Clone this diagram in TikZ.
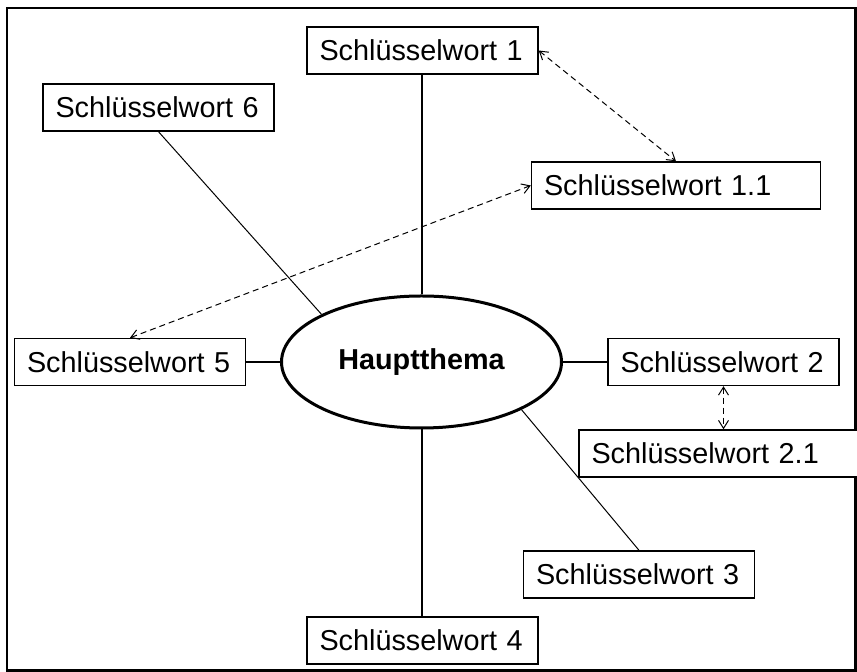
\documentclass[tikz,border=0pt]{standalone}
\usepackage{fontspec}
\setmainfont{Liberation Sans}
\usetikzlibrary{shapes.geometric,arrows.meta}

\begin{document}
\begin{tikzpicture}[x=0.5pt,y=-0.5pt,
    wort/.style={draw, fill=white, line width=0.7pt, inner xsep=6.25pt,
      text width=103pt, align=left, minimum height=23.5pt,
      font=\fontsize{14.4}{17}\selectfont},
    wortbreit/.style={wort, text width=132pt},
    haupt/.style={draw, ellipse, line width=1.5pt, inner sep=0pt,
      minimum width=140pt, minimum height=66pt,
      font=\fontsize{14.4}{17}\selectfont\bfseries},
    ast/.style={line width=1pt},
    zweig/.style={line width=0.5pt},
    bezug/.style={line width=0.5pt, densely dashed,
      {Straight Barb[length=4pt,width=5pt]}-{Straight Barb[length=4pt,width=5pt]}}]

  % Rahmen
  \useasboundingbox (0,0) rectangle (857,672);
  \draw[line width=1.2pt] (7,8) rectangle (855.5,670.5);

  % Hauptthema in der Mitte
  \node[haupt] (haupt) at (421.5,362) {Hauptthema};

  % Schluesselwoerter
  \node[wort] (w1) at (422.5,50.5) {Schlüsselwort 1};
  \node[wort] (w6) at (158.5,107.5) {Schlüsselwort 6};
  \node[wortbreit] (w11) at (676,185.5) {Schlüsselwort 1.1};
  \node[wort] (w5) at (130,362) {Schlüsselwort 5};
  \node[wort] (w2) at (723.5,362) {Schlüsselwort 2};
  \node[wortbreit] (w21) at (723.5,453.5) {Schlüsselwort 2.1};
  \node[wort] (w3) at (639,574.5) {Schlüsselwort 3};
  \node[wort] (w4) at (422.5,640.5) {Schlüsselwort 4};

  % Hauptaeste
  \draw[ast] (haupt.north) -- (haupt.north |- w1.south);
  \draw[ast] (haupt.south) -- (haupt.south |- w4.north);
  \draw[ast] (haupt.west) -- (w5.east);
  \draw[ast] (haupt.east) -- (w2.west);

  % schraege Aeste
  \draw[zweig] (haupt.north west) -- (w6.south);
  \draw[zweig] (haupt.south east) -- (w3.north);

  % Querbezuege
  \draw[bezug] (w1.east) -- (w11.north);
  \draw[bezug] (w5.north) -- (w11.west);
  \draw[bezug] (w2.south) -- (w21.north);

\end{tikzpicture}
\end{document}
